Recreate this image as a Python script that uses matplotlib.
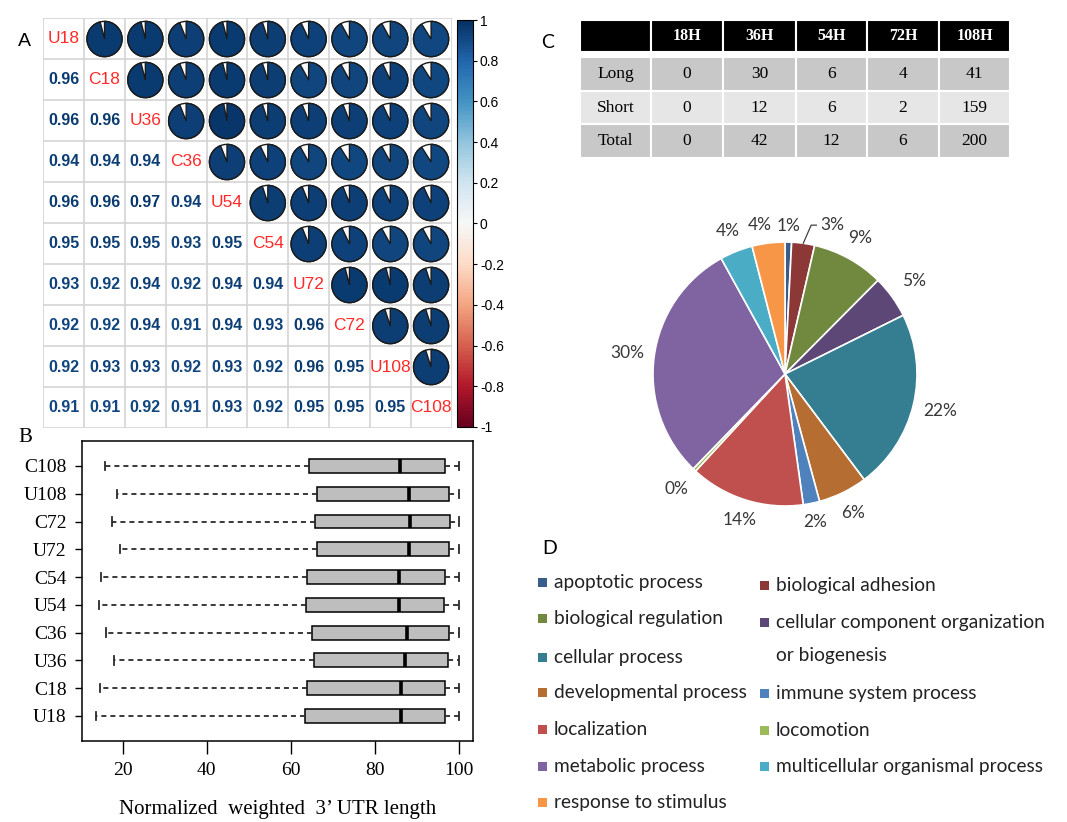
import numpy as np
import matplotlib
matplotlib.use("Agg")
import matplotlib.pyplot as plt
from matplotlib.patches import Circle, Wedge, Rectangle
from matplotlib.colors import Normalize
from matplotlib.cm import ScalarMappable

# ---------------- data ----------------
samples = ["U18", "C18", "U36", "C36", "U54", "C54", "U72", "C72", "U108", "C108"]
# lower triangle of the Pearson correlation matrix (row i, columns 0..i-1)
corr_lower = [
    [],
    [0.96],
    [0.96, 0.96],
    [0.94, 0.94, 0.94],
    [0.96, 0.96, 0.97, 0.94],
    [0.95, 0.95, 0.95, 0.93, 0.95],
    [0.93, 0.92, 0.94, 0.92, 0.94, 0.94],
    [0.92, 0.92, 0.94, 0.91, 0.94, 0.93, 0.96],
    [0.92, 0.93, 0.93, 0.92, 0.93, 0.92, 0.96, 0.95],
    [0.91, 0.91, 0.92, 0.91, 0.93, 0.92, 0.95, 0.95, 0.95],
]
cbar_ticks = [1, 0.8, 0.6, 0.4, 0.2, 0, -0.2, -0.4, -0.6, -0.8, -1]

# box plot summary of normalized weighted 3' UTR length (bottom to top)
box_labels = ["U18", "C18", "U36", "C36", "U54", "C54", "U72", "C72", "U108", "C108"]
whisker_low = [13.8, 14.6, 18.0, 16.1, 14.3, 14.9, 19.4, 17.6, 18.7, 15.8]
q1 = [63.4, 64.0, 65.5, 65.0, 63.8, 64.0, 66.3, 65.8, 66.3, 64.3]
medians = [86.4, 86.4, 87.2, 87.8, 85.8, 85.8, 88.2, 88.5, 88.2, 86.1]
q3 = [96.8, 96.8, 97.5, 97.8, 96.6, 96.8, 97.8, 98.0, 97.8, 96.8]
whisker_high = [100, 100, 100, 100, 100, 100, 100, 100, 100, 100]
box_ticks = [20, 40, 60, 80, 100]

# genes with lengthened / shortened 3' UTR per time point
time_points = ["18H", "36H", "54H", "72H", "108H"]
long_counts = [0, 30, 6, 4, 41]
short_counts = [0, 12, 6, 2, 159]

# GO biological process categories
go_terms = ["apoptotic process", "biological adhesion", "biological regulation",
            "cellular component organization\nor biogenesis", "cellular process",
            "developmental process", "immune system process", "localization",
            "locomotion", "metabolic process", "multicellular organismal process",
            "response to stimulus"]
go_counts = [2, 7, 22, 13, 55, 15, 5, 35, 1, 74, 10, 10]
go_colors = ["#385D8A", "#8C3836", "#71893F", "#5C4776", "#357D91", "#B66D31",
             "#4F81BD", "#C0504D", "#9BBB59", "#8064A2", "#4BACC6", "#F79646"]

# ---------------- figure ----------------
W, H = 1067, 822
fig = plt.figure(figsize=(W / 100, H / 100), dpi=100)


def px_axes(x0, y0, x1, y1):
    return fig.add_axes([x0 / W, 1 - y1 / H, (x1 - x0) / W, (y1 - y0) / H])


overlay = px_axes(0, 0, W, H)
overlay.set_xlim(0, W)
overlay.set_ylim(H, 0)
overlay.axis("off")

SANS = "Liberation Sans"
SERIF = "Liberation Serif"
CAL = "Lato"

# ---------------- panel A: correlation matrix ----------------
cmap = plt.get_cmap("RdBu")
norm = Normalize(-1, 1)
n = len(samples)
corr = np.eye(n)
for i, row in enumerate(corr_lower):
    for j, v in enumerate(row):
        corr[i, j] = v
        corr[j, i] = v

axA = px_axes(43.3, 18.5, 451.5, 428.5)
axA.set_xlim(0, n)
axA.set_ylim(0, n)
axA.axis("off")
for k in range(n + 1):
    axA.plot([k, k], [0, n], color="#D4D4D4", lw=1.2, zorder=1)
    axA.plot([0, n], [k, k], color="#D4D4D4", lw=1.2, zorder=1)

for i in range(n):
    yc = n - i - 0.5
    for j in range(n):
        xc = j + 0.5
        v = corr[i, j]
        if i == j:
            axA.text(xc, yc, samples[i], color="#FF2A2A", fontsize=12.5,
                     family=SANS, ha="center", va="center")
        elif i > j:
            axA.text(xc, yc, f"{v:.2f}", color=cmap(norm(v)), fontsize=11.5,
                     family=SANS, fontweight="bold", ha="center", va="center")
        else:
            r = 0.43
            axA.add_patch(Circle((xc, yc), r, facecolor="white", edgecolor="#1a1a1a",
                                 lw=1.0, zorder=2))
            axA.add_patch(Wedge((xc, yc), r, 90 - v * 360, 90, facecolor=cmap(norm(v)),
                                edgecolor="#1a1a1a", lw=1.0, zorder=3))

caxA = px_axes(457, 20, 473, 427)
cb = fig.colorbar(ScalarMappable(norm=norm, cmap=cmap), cax=caxA)
cb.set_ticks(cbar_ticks)
cb.set_ticklabels([f"{t:g}" for t in cbar_ticks])
cb.outline.set_linewidth(0.8)
caxA.tick_params(labelsize=10, length=3, width=0.8, pad=2)
for t in caxA.get_yticklabels():
    t.set_family(SANS)

overlay.text(18, 42, "A", fontsize=14, family=SANS, ha="left", va="center")

# ---------------- panel B: box plot ----------------
axB = px_axes(82, 441, 473, 741)
stats = []
for k in range(len(box_labels)):
    stats.append(dict(label=box_labels[k], whislo=whisker_low[k], q1=q1[k],
                      med=medians[k], q3=q3[k], whishi=whisker_high[k], fliers=[]))
positions = np.arange(1, len(box_labels) + 1)
axB.bxp(stats, positions=positions, orientation="horizontal", widths=0.5,
        patch_artist=True, showfliers=False, capwidths=0.3,
        boxprops=dict(facecolor="#BEBEBE", edgecolor="black", lw=1.1),
        medianprops=dict(color="black", lw=2.6, solid_capstyle="butt"),
        whiskerprops=dict(color="#2a2a2a", lw=1.3, linestyle=(0, (2.8, 2.2))),
        capprops=dict(color="#2a2a2a", lw=1.3))
axB.set_xlim(10.35, 103.45)
axB.set_ylim(0.1, 10.9)
axB.set_xticks(box_ticks)
axB.set_xticklabels([str(t) for t in box_ticks])
axB.set_yticks(positions)
axB.set_yticklabels(box_labels)
axB.tick_params(axis="x", length=9, width=1, pad=6, labelsize=14)
axB.tick_params(axis="y", length=5, width=1, pad=6, labelsize=14)
for t in axB.get_xticklabels() + axB.get_yticklabels():
    t.set_family(SERIF)
axB.set_xlabel("Normalized  weighted  3\u2019 UTR length", family=SERIF,
               fontsize=15, labelpad=15)
for s in axB.spines.values():
    s.set_linewidth(1.1)
overlay.text(18, 437, "B", fontsize=15, family=SERIF, ha="left", va="center")

# ---------------- panel C: table ----------------
axC = px_axes(580, 20, 1010, 158)
axC.set_xlim(0, 430)
axC.set_ylim(138, 0)
axC.axis("off")
col_edges = [0, 71, 143, 216, 287, 359, 430]
total_counts = [a + b for a, b in zip(long_counts, short_counts)]
rows = [("Long", long_counts, "#C8C8C8"),
        ("Short", short_counts, "#E6E6E6"),
        ("Total", total_counts, "#C8C8C8")]
# header
for c in range(len(col_edges) - 1):
    axC.add_patch(Rectangle((col_edges[c], 0), col_edges[c + 1] - col_edges[c], 32,
                            facecolor="black", edgecolor="white", lw=1.5))
    if c > 0:
        axC.text((col_edges[c] + col_edges[c + 1]) / 2, 16, time_points[c - 1],
                 color="white", fontsize=11.5, fontweight="bold", family=SERIF,
                 ha="center", va="center")
row_h = (138 - 37) / 3
for r, (name, vals, fc) in enumerate(rows):
    y0 = 37 + r * row_h
    for c in range(len(col_edges) - 1):
        axC.add_patch(Rectangle((col_edges[c], y0), col_edges[c + 1] - col_edges[c], row_h,
                                facecolor=fc, edgecolor="white", lw=1.5))
        txt = name if c == 0 else str(vals[c - 1])
        axC.text((col_edges[c] + col_edges[c + 1]) / 2, y0 + row_h / 2, txt,
                 color="black", fontsize=12.5, family=SERIF, ha="center", va="center")
overlay.text(541, 42, "C", fontsize=14, family=CAL, ha="left", va="center")

# ---------------- panel D: GO pie chart ----------------
cx, cy, R = 785, 374, 132
axD = px_axes(cx - 200, cy - 200, cx + 200, cy + 200)
wedges, _texts, autotexts = axD.pie(
    go_counts, colors=go_colors, startangle=90, counterclock=False,
    wedgeprops=dict(edgecolor="white", linewidth=1.2),
    autopct=lambda p: f"{p:.0f}%", pctdistance=1.2,
    textprops=dict(family=CAL, fontsize=12.5, color="#383838"))
lim = 200 / R
axD.set_xlim(-lim, lim)
axD.set_ylim(-lim, lim)
axD.set_aspect("equal")

gap, hw, hh = 9 / R, 17 / R, 7 / R
for k, (w, t) in enumerate(zip(wedges, autotexts)):
    ang = np.deg2rad((w.theta1 + w.theta2) / 2)
    ux, uy = np.cos(ang), np.sin(ang)
    d = 1 + gap + abs(ux) * hw + abs(uy) * hh
    t.set_position((d * ux, d * uy))
    t.set_ha("center")
    t.set_va("center")
    if k == 1:
        # small slice: pull its label sideways with a leader line
        lx, ly = d * ux + 0.2, d * uy
        t.set_position((lx, ly))
        axD.plot([1.0 * ux, 1.0 * ux + 0.06, lx - 0.12],
                 [1.0 * uy, ly - 0.0, ly - 0.0], color="#404040", lw=0.9)
    if k == len(wedges) - 1:
        t.set_position((d * ux - 0.05, d * uy))

# legend
col_x = [538, 760]
legend_layout = [(0, 582), (1, 585), (0, 618), (1, 622), (0, 657), (0, 692),
                 (1, 693), (0, 729), (1, 730), (0, 766), (1, 766), (0, 802)]
for k, term in enumerate(go_terms):
    c, y = legend_layout[k]
    x = col_x[c]
    overlay.add_patch(Rectangle((x, y - 4.5), 9, 9, facecolor=go_colors[k],
                                edgecolor="none"))
    lines = term.split("\n")
    overlay.text(x + 16, y, lines[0], fontsize=13.8, family=CAL, color="#222222",
                 ha="left", va="center")
    if len(lines) > 1:
        overlay.text(x + 16, y + 33, lines[1], fontsize=13.8, family=CAL,
                     color="#222222", ha="left", va="center")
overlay.text(542, 548, "D", fontsize=14, family=CAL, ha="left", va="center")

fig.savefig("out.png", dpi=100)
